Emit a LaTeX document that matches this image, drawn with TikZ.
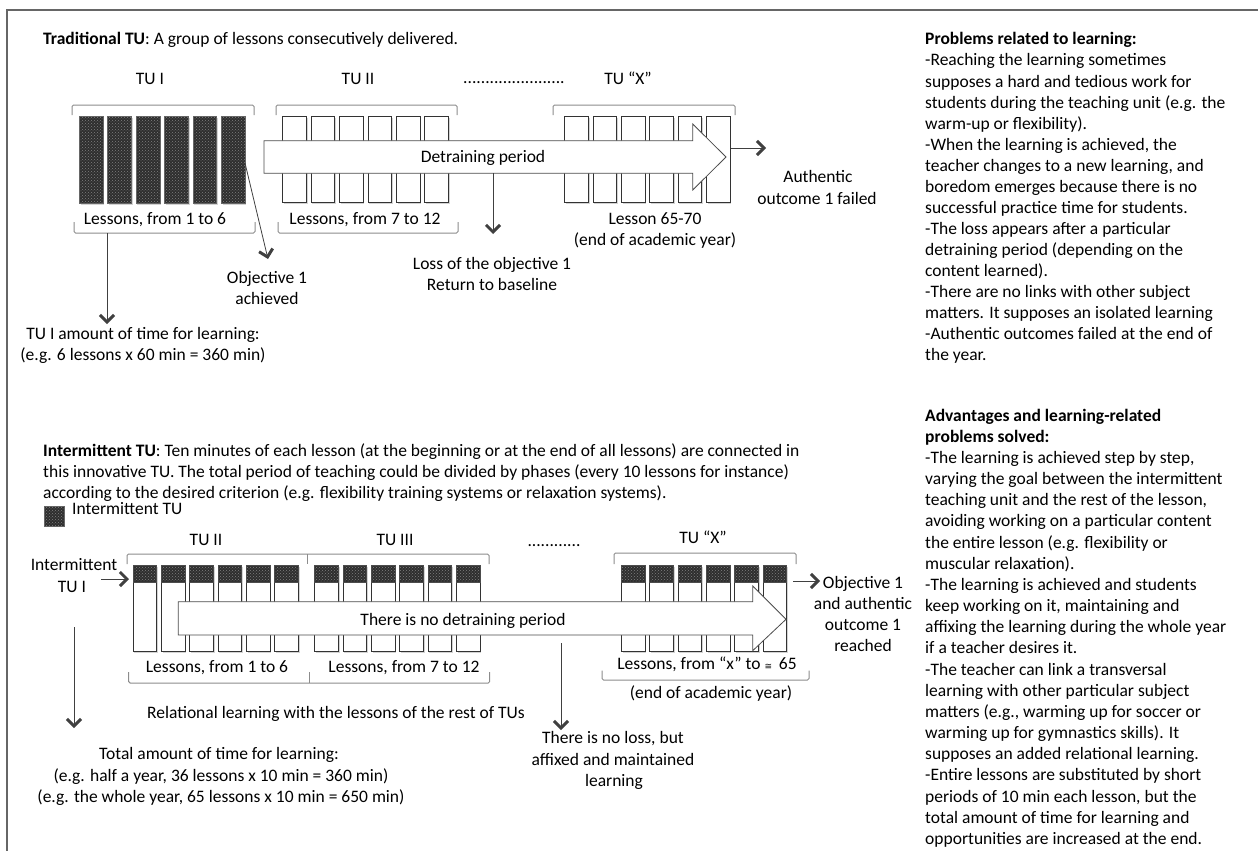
\documentclass[tikz,border=0pt]{standalone}
\usepackage{fontspec}
\setmainfont{Carlito}
\newfontfamily\dejavu{DejaVu Sans}
\usetikzlibrary{arrows.meta,patterns,shadows}
\begin{document}
\begin{tikzpicture}[x=1pt,y=-1pt,
  txt/.style={inner sep=0pt, anchor=base, font=\fontsize{17.5}{21}\selectfont},
  ltxt/.style={txt, anchor=base west},
  brk/.style={draw=black!80, line width=0.8pt, fill=white, inner sep=0pt, minimum width=23.7pt, anchor=north west},
  shad/.style={drop shadow={shadow xshift=1.2pt, shadow yshift=-1.2pt, opacity=0.35}},
  darkfill/.style={preaction={fill=black!82}, pattern=crosshatch dots, pattern color=black!50},
  bracket/.style={draw=black!45, line width=1pt, rounded corners=1.5pt},
  conn/.style={draw=black!75, line width=0.8pt, -{Straight Barb[length=7pt,width=14pt,line width=3pt]}},
  bigarrow/.style={draw=black!70, fill=white, line width=0.8pt, line join=miter},
]
\useasboundingbox (0,0) rectangle (1258,851);
\draw[black!60, line width=1.3pt] (7,851) -- (7,10) -- (1258,10);

% ---------------- Traditional TU ----------------
\node[ltxt] (ttitle) at (43,45) {\textbf{Traditional TU}: A group of lessons consecutively delivered.};
\node[txt] (tu1) at (150,84.5) {TU I};
\node[txt] (tu2) at (358,84.5) {TU II};
\node[txt] (tdots) at (514,84) {.......................};
\node[txt] (tux) at (628,84.5) {TU “X”};

\draw[bracket] (72,115) -- (72,105) -- (254,105) -- (254,115);
\draw[bracket] (276,115) -- (276,105) -- (457,105) -- (457,115);
\draw[bracket] (553,115) -- (553,105) -- (735,105) -- (735,115);

\foreach \i in {0,...,5} {
  \node[brk, shad, darkfill, draw=black!60, minimum height=87pt] (ta\i) at ({79+28.4*\i},116) {};
  \node[brk, shad, minimum height=86pt] (tb\i) at ({282.3+28.4*\i},116) {};
  \node[brk, shad, minimum height=86pt] (tx\i) at ({564.3+28.33*\i},116) {};
}

\draw[bracket] (74,222) -- (74,233) -- (255,233) -- (255,222);
\draw[bracket] (278,222) -- (278,233) -- (458,233) -- (458,222);

\draw[bigarrow] (264,140.7) -- (692.7,140.7) -- (692.7,124) -- (726,157) -- (692.7,190) -- (692.7,173.3) -- (264,173.3) -- cycle;
\node[txt] (detr) at (483,162) {Detraining period};
\coordinate (detrbot) at (493,173.3);

\node[txt] (les1) at (155,224) {Lessons, from 1 to 6};
\node[txt] (les2) at (365,224) {Lessons, from 7 to 12};
\node[txt] (les3) at (655,224) {Lesson 65-70};
\node[txt] (les3b) at (655,245) {(end of academic year)};

\node[txt] (loss1) at (492,269.5) {Loss of the objective 1};
\node[txt] (loss2) at (492,290.5) {Return to baseline};
\node[txt] (obj1) at (267,283.5) {Objective 1};
\node[txt] (obj2) at (267,304) {achieved};
\node[txt] (auth1) at (818,182.5) {Authentic};
\node[txt] (auth2) at (817,204) {outcome 1 failed};
\node[txt] (amt1) at (143,339.5) {TU I amount of time for learning:};
\node[txt] (amt2) at (143,360.5) {(e.g. 6 lessons x 60 min = 360 min)};

\coordinate (c1s) at (107,233);  \coordinate (c1e) at (107,324);
\coordinate (c2s) at (245,163);  \coordinate (c2e) at (268,259);
\coordinate (c3e) at (493,234);
\coordinate (c4s) at (731,148);  \coordinate (c4e) at (766,148);
\draw[conn] (c1s) -- (c1e);
\draw[conn] (c2s) -- (c2e);
\draw[conn] (detrbot) -- (c3e);
\draw[conn] (c4s) -- (c4e);

% right column 1
\node[ltxt] (ph) at (925,45) {\textbf{Problems related to learning:}};
\foreach \l [count=\i from 1] in {
 {-Reaching the learning sometimes},
 {supposes a hard and tedious work for},
 {students during the teaching unit (e.g. the},
 {warm-up or flexibility).},
 {-When the learning is achieved, the},
 {teacher changes to a new learning, and},
 {boredom emerges because there is no},
 {successful practice time for students.},
 {-The loss appears after a particular},
 {detraining period (depending on the},
 {content learned).},
 {-There are no links with other subject},
 {matters. It supposes an isolated learning},
 {-Authentic outcomes failed at the end of},
 {the year.}
} \node[ltxt] (p\i) at (925,{45+21*\i}) {\l};

% ---------------- Intermittent TU ----------------
\node[ltxt] (ititle) at (43,456) {\textbf{Intermittent TU}: Ten minutes of each lesson (at the beginning or at the end of all lessons) are connected in};
\node[ltxt] (ipara2) at (43,477) {this innovative TU. The total period of teaching could be divided by phases (every 10 lessons for instance)};
\node[ltxt] (ipara3) at (43,498) {according to the desired criterion (e.g. flexibility training systems or relaxation systems).};

\node[brk, darkfill, draw=black!60, minimum width=20pt, minimum height=20pt] (legsq) at (44,506) {};
\node[ltxt] (legtxt) at (72,514) {Intermittent TU};

\node[txt] (bu2) at (206,545.5) {TU II};
\node[txt] (bu3) at (395,545.5) {TU III};
\node[txt] (bdots) at (554,546) {............};
\node[txt] (bux) at (703,543.5) {TU “X”};

\draw[bracket] (127,564) -- (127,554) -- (489,554) -- (489,564);
\draw[bracket] (307,554) -- (307,564);
\draw[bracket] (614,564) -- (614,553) -- (796,553) -- (796,564);

\foreach \i in {0,...,5} {
  \node[brk, shad, minimum height=86pt] (ba\i) at ({132.7+28.33*\i},565) {};
  \node[brk, darkfill, draw=black!70, minimum height=17pt] (bad\i) at ({132.7+28.33*\i},565) {};
  \node[brk, shad, minimum height=86pt] (bb\i) at ({314.3+28.33*\i},565) {};
  \node[brk, darkfill, draw=black!70, minimum height=17pt] (bbd\i) at ({314.3+28.33*\i},565) {};
  \node[brk, shad, minimum height=86pt] (bx\i) at ({621+28.33*\i},565) {};
  \node[brk, darkfill, draw=black!70, minimum height=17pt] (bxd\i) at ({621+28.33*\i},565) {};
}

\draw[bigarrow] (178.3,601.7) -- (752.7,601.7) -- (752.7,586) -- (786,619.3) -- (752.7,650.7) -- (752.7,635) -- (178.3,635) -- cycle;
\node[txt] (nodetr) at (463,625) {There is no detraining period};

\draw[bracket] (128.6,672) -- (128.6,683) -- (489.7,683) -- (489.7,672);
\draw[bracket] (309,683) -- (309,672);
\draw[bracket] (602,670.7) -- (602,680) -- (809,680) -- (809,670.7);

\node[txt] (inter1) at (74,570.5) {Intermittent};
\node[txt] (inter2) at (72,592) {TU I};
\node[txt] (bl1) at (217,672.5) {Lessons, from 1 to 6};
\node[txt] (bl2) at (404,672.5) {Lessons, from 7 to 12};
\node[txt] (bl3) at (707,669.5) {Lessons, from “x” to {\dejavu\fontsize{9}{10}\selectfont ≅}\, 65};
\node[txt] (bl3b) at (711,698) {(end of academic year)};
\node[txt] (ob1) at (863,588.5) {Objective 1};
\node[txt] (ob2) at (863,609.5) {and authentic};
\node[txt] (ob3) at (863,630.5) {outcome 1};
\node[txt] (ob4) at (863,651) {reached};
\node[txt] (rel) at (336,718.5) {Relational learning with the lessons of the rest of TUs};
\node[txt] (nl1) at (613,743.5) {There is no loss, but};
\node[txt] (nl2) at (613,765) {affixed and maintained};
\node[txt] (nl3) at (614,786) {learning};
\node[txt] (tot1) at (219,759.5) {Total amount of time for learning:};
\node[txt] (tot2) at (221,781) {(e.g. half a year, 36 lessons x 10 min = 360 min)};
\node[txt] (tot3) at (221,802.5) {(e.g. the whole year, 65 lessons x 10 min = 650 min)};

\coordinate (d1s) at (101,579);  \coordinate (d1e) at (129,579);
\coordinate (d2s) at (74,627);   \coordinate (d2e) at (74,728);
\coordinate (d3s) at (561,643);  \coordinate (d3e) at (561,730);
\coordinate (d4s) at (793,581);  \coordinate (d4e) at (820,581);
\draw[conn] (d1s) -- (d1e);
\draw[conn] (d2s) -- (d2e);
\draw[conn] (d3s) -- (d3e);
\draw[conn] (d4s) -- (d4e);

% right column 2
\node[ltxt] (ah1) at (925,421) {\textbf{Advantages and learning-related}};
\node[ltxt] (ah2) at (925,442.2) {\textbf{problems solved:}};
\foreach \l [count=\i from 2] in {
 {-The learning is achieved step by step,},
 {varying the goal between the intermittent},
 {teaching unit and the rest of the lesson,},
 {avoiding working on a particular content},
 {the entire lesson (e.g. flexibility or},
 {muscular relaxation).},
 {-The learning is achieved and students},
 {keep working on it, maintaining and},
 {affixing the learning during the whole year},
 {if a teacher desires it.},
 {-The teacher can link a transversal},
 {learning with other particular subject},
 {matters (e.g., warming up for soccer or},
 {warming up for gymnastics skills). It},
 {supposes an added relational learning.},
 {-Entire lessons are substituted by short},
 {periods of 10 min each lesson, but the},
 {total amount of time for learning and},
 {opportunities are increased at the end.}
} \node[ltxt] (a\i) at (925,{421+21.17*\i}) {\l};
\end{tikzpicture}
\end{document}
